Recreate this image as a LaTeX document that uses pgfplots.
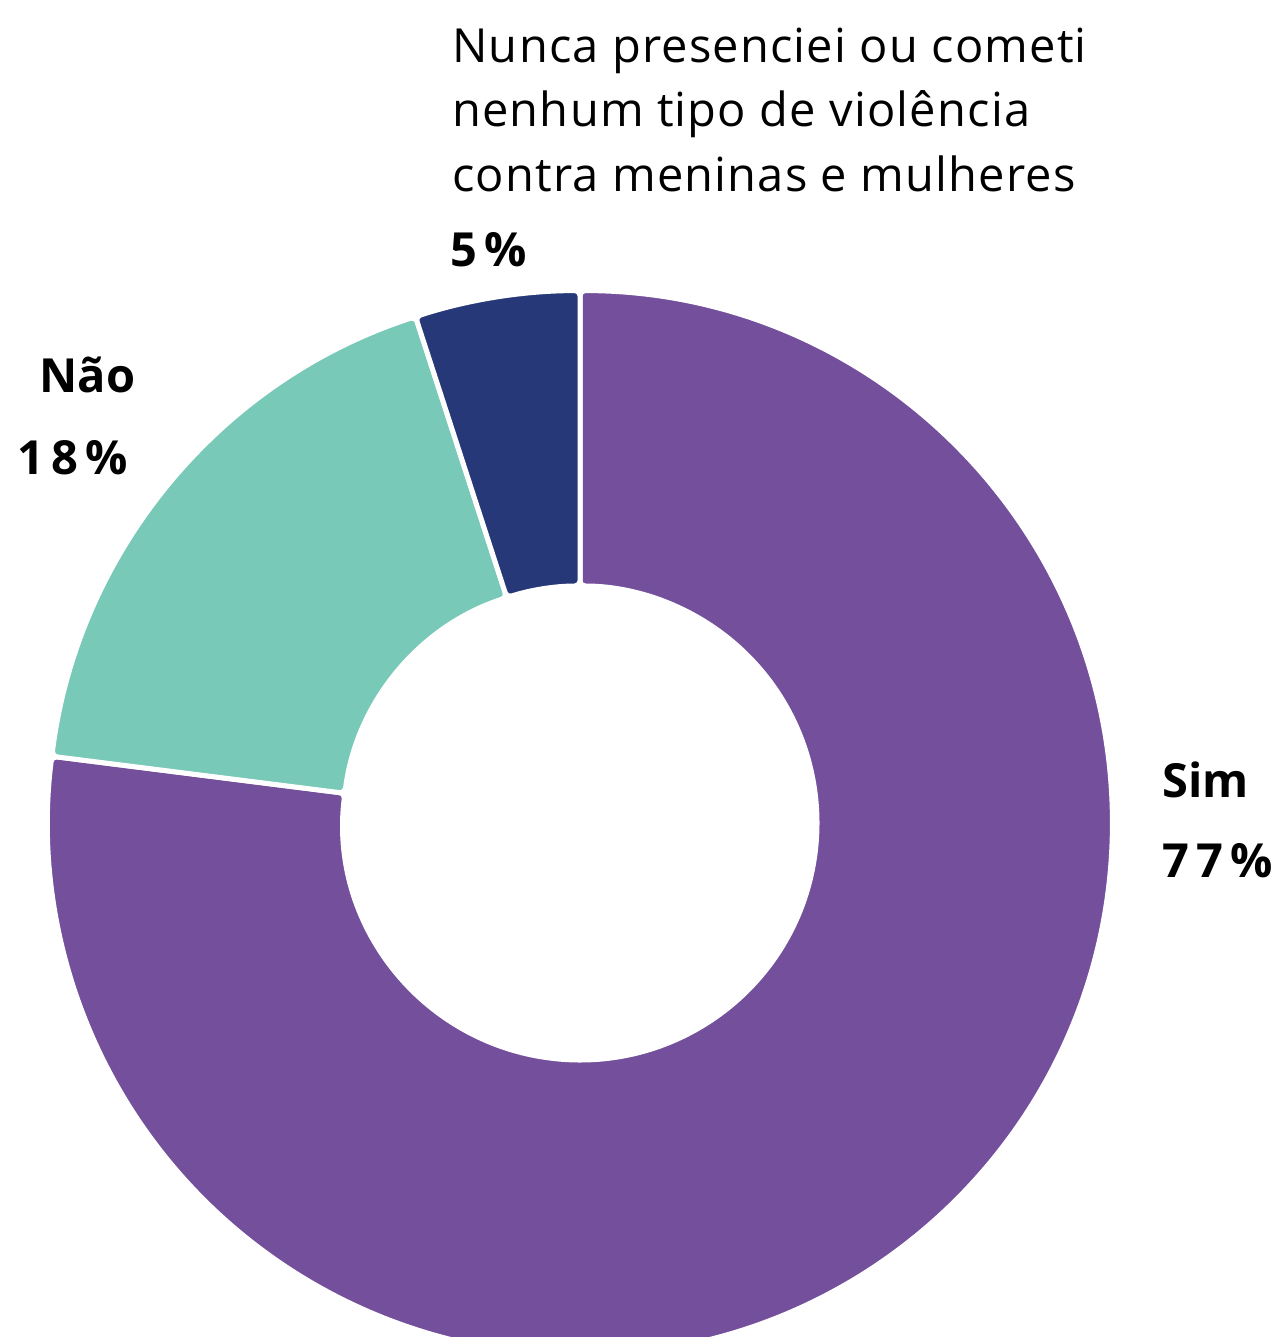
\documentclass[border=0pt]{standalone}
\usepackage{pgfplots}
\pgfplotsset{compat=1.18}
\usepackage{pgfplotstable}
\usepackage{fontspec}
\setmainfont{Open Sans}
\newfontfamily\spaced[LetterSpace=2.5]{Open Sans}
\definecolor{cSim}{HTML}{734F9C}
\definecolor{cNao}{HTML}{78C9B7}
\definecolor{cNunca}{HTML}{263877}
\pgfplotstableread{
label value
Sim 77
Nao 18
Nunca 5
}\datatable
\newcommand\sector[3]{%
  \fill[#3, draw=white, line width=2.5pt, rounded corners=2.5pt]
    ([shift={(#1:266.2pt)}]axis cs:580,514) arc[start angle=#1, end angle=#2, radius=266.2pt]
    -- ([shift={(#2:118.5pt)}]axis cs:580,514) arc[start angle=#2, end angle=#1, radius=118.5pt]
    -- cycle;}
\begin{document}
\begin{tikzpicture}
\begin{axis}[
  scale only axis, width=642pt, height=668.5pt,
  xmin=0, xmax=1284, ymin=0, ymax=1337,
  hide axis, clip=true,
]
\pgfplotstablegetelem{0}{value}\of\datatable \pgfmathsetmacro\va{\pgfplotsretval}
\pgfplotstablegetelem{1}{value}\of\datatable \pgfmathsetmacro\vb{\pgfplotsretval}
\pgfplotstablegetelem{2}{value}\of\datatable \pgfmathsetmacro\vc{\pgfplotsretval}
\pgfmathsetmacro\aA{90}
\pgfmathsetmacro\aB{90-3.6*\va}
\pgfmathsetmacro\aC{\aB-3.6*\vb}
\pgfmathsetmacro\aD{\aC-3.6*\vc}
\sector{\aA}{\aB}{cSim}
\sector{\aB}{\aC}{cNao}
\sector{\aC}{\aD}{cNunca}
\begin{scope}[every node/.style={anchor=base west, inner sep=0pt, font=\fontsize{23.5pt}{28pt}\selectfont}]
\node[font=\fontsize{23.5pt}{28pt}\selectfont\spaced] at (axis cs:452,1274) {Nunca presenciei ou cometi};
\node[font=\fontsize{23.5pt}{28pt}\selectfont\spaced] at (axis cs:452,1210) {nenhum tipo de violência};
\node[font=\fontsize{23.5pt}{28pt}\selectfont\spaced] at (axis cs:452,1145) {contra meninas e mulheres};
\node[font=\fontsize{23.5pt}{28pt}\selectfont\bfseries] at (axis cs:450,1070) {5\kern3.5pt\%};
\node[font=\fontsize{23.5pt}{28pt}\selectfont\bfseries] at (axis cs:39,944) {Não};
\node[font=\fontsize{23.5pt}{28pt}\selectfont\bfseries] at (axis cs:17,862) {1\kern3.5pt8\kern3.5pt\%};
\node[font=\fontsize{23.5pt}{28pt}\selectfont\bfseries] at (axis cs:1162,539) {Sim};
\node[font=\fontsize{23.5pt}{28pt}\selectfont\bfseries] at (axis cs:1162,459) {7\kern3.5pt7\kern3.5pt\%};
\end{scope}
\end{axis}
\pgfresetboundingbox
\path[use as bounding box] (current axis.south west) rectangle (current axis.north east);
\end{tikzpicture}
\end{document}
